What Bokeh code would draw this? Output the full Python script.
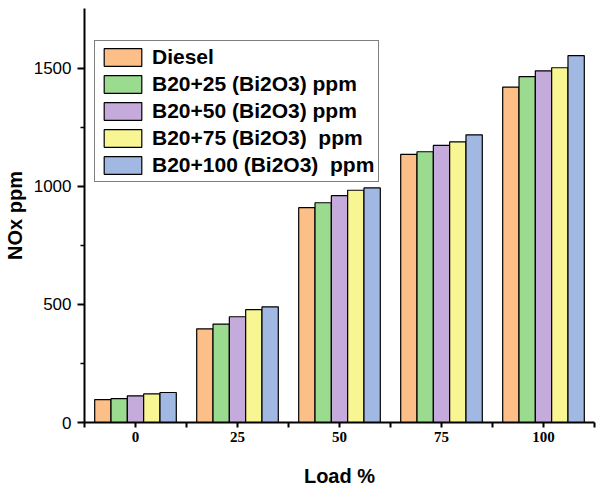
from bokeh.plotting import figure
from bokeh.models import ColumnDataSource, Range1d, FixedTicker, Legend, LegendItem
from bokeh.transform import dodge
from bokeh.embed import file_html
from bokeh.resources import INLINE

# ---- data ----
loads = ["0", "25", "50", "75", "100"]
series_names = ["Diesel", "B20+25 (Bi2O3) ppm", "B20+50 (Bi2O3) ppm",
                "B20+75 (Bi2O3)  ppm", "B20+100 (Bi2O3)  ppm"]
diesel = [97, 397, 910, 1136, 1421]
b20_25 = [101, 417, 931, 1147, 1465]
b20_50 = [113, 448, 961, 1174, 1490]
b20_75 = [121, 478, 984, 1189, 1503]
b20_100 = [127, 490, 994, 1219, 1554]
colors = ["#FBBF87", "#9BDB8F", "#C5AADC", "#F7F692", "#A0B8E2"]
y_ticks = [0, 500, 1000, 1500]
y_minor = [250, 750, 1250]

series = [diesel, b20_25, b20_50, b20_75, b20_100]
keys = ["s0", "s1", "s2", "s3", "s4"]
pos = [i + 0.5 for i in range(len(loads))]
data = dict(x=pos)
for k, s in zip(keys, series):
    data[k] = s
src = ColumnDataSource(data)

p = figure(width=599, height=489, output_backend="svg", toolbar_location=None,
           x_range=Range1d(0, len(loads)), y_range=Range1d(0, 1754),
           min_border_left=76, min_border_right=5, min_border_top=8,
           min_border_bottom=67)
p.outline_line_color = None
p.xgrid.visible = False
p.ygrid.visible = False

bw = 0.16
offsets = [-2 * bw, -bw, 0, bw, 2 * bw]
items = []
for k, name, c, off in zip(keys, series_names, colors, offsets):
    r = p.vbar(x=dodge("x", off), top=k, width=bw, source=src,
               fill_color=c, line_color="black", line_width=1.2)
    items.append(LegendItem(label=name, renderers=[r]))

# x axis
xa = p.xaxis[0]
xa.ticker = FixedTicker(ticks=pos, minor_ticks=list(range(len(loads) + 1)))
xa.major_label_overrides = {pp: l for pp, l in zip(pos, loads)}
xa.axis_line_width = 2
xa.major_tick_line_width = 2
xa.minor_tick_line_width = 2
xa.major_tick_in = 0
xa.major_tick_out = 5
xa.minor_tick_in = 0
xa.minor_tick_out = 5
xa.major_label_text_font = "Liberation Serif"
xa.major_label_text_font_style = "bold"
xa.major_label_text_font_size = "15px"
xa.major_label_text_color = "black"
xa.major_label_standoff = 4
xa.axis_label = "Load %"
xa.axis_label_text_font = "Liberation Sans"
xa.axis_label_text_font_style = "bold"
xa.axis_label_text_font_size = "20px"
xa.axis_label_text_color = "black"
xa.axis_label_standoff = 20

# y axis
ya = p.yaxis[0]
ya.ticker = FixedTicker(ticks=y_ticks, minor_ticks=y_minor)
ya.axis_line_width = 2
ya.major_tick_line_width = 2
ya.minor_tick_line_width = 1.5
ya.major_tick_in = 0
ya.major_tick_out = 7
ya.minor_tick_in = 0
ya.minor_tick_out = 4
ya.major_label_text_font = "Liberation Sans"
ya.major_label_text_font_size = "17px"
ya.major_label_text_color = "black"
ya.major_label_standoff = 6
ya.axis_label = "NOx ppm"
ya.axis_label_text_font = "Liberation Sans"
ya.axis_label_text_font_style = "bold"
ya.axis_label_text_font_size = "20px"
ya.axis_label_text_color = "black"
ya.axis_label_standoff = 5

legend = Legend(items=items, location=(10, 240))
legend.padding = 4
legend.spacing = 3
legend.margin = 0
legend.glyph_width = 47
legend.glyph_height = 22
legend.label_height = 22
legend.label_standoff = 6
legend.label_text_font = "Liberation Sans"
legend.label_text_font_style = "bold"
legend.label_text_font_size = "21px"
legend.label_text_color = "black"
legend.border_line_color = "black"
legend.border_line_width = 1
legend.background_fill_color = "white"
legend.background_fill_alpha = 1
p.add_layout(legend)

open("out.html", "w").write(file_html(p, INLINE))
